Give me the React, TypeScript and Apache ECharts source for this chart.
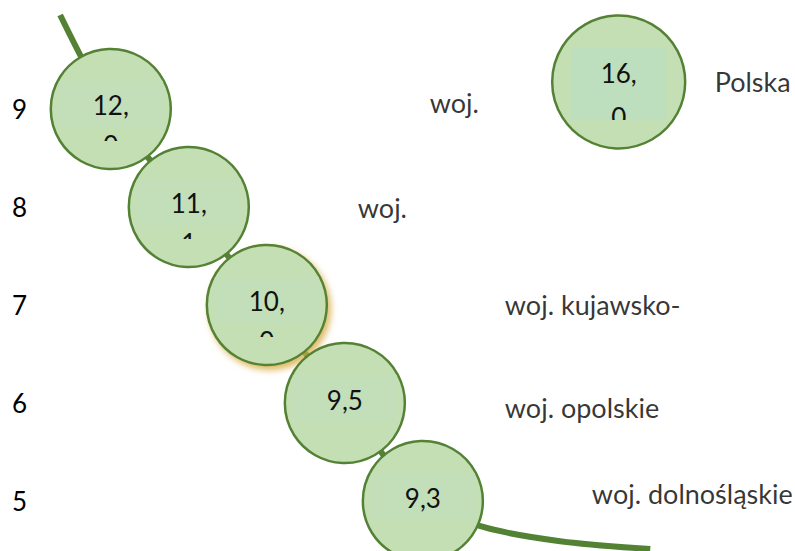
import React, { useEffect, useRef } from "react";
import * as echarts from "echarts";

// ---- data ----
const rankLabels = ["5", "6", "7", "8", "9"]; // y-axis categories, bottom to top
const regionNames = ["woj.", "woj.", "woj. kujawsko-", "woj. opolskie", "woj. dolnośląskie"];
const regionRanks = [9, 8, 7, 6, 5];
const regionValues = [12.0, 11.1, 10.0, 9.5, 9.3];
const nationalName = "Polska";
const nationalValue = 16.0;

// ---- layout (not data) ----
const NATIONAL_POS = [6.51, 9.276];
const LINE_LEAD = [[-0.649, 9.959]];
const LINE_TRAIL = [
  [4.774, 4.735],
  [5.76, 4.59],
  [6.915, 4.51],
];
const NAME_OFFSETS = [
  [319, -7],
  [169, 0],
  [238, -1],
  [160, 4],
  [169, -8],
];
const NATIONAL_NAME_OFFSET = [96, 0];

const FONT = "Lato";
const FILL = "#C5DFB4";
const BORDER = "#548235";
const INNER = "#C3DFBA";

const fmt = (v: number) => {
  const s = v.toFixed(1).replace(".", ",");
  return s.length > 3 ? s.replace(",", ",\n") : s;
};
const isTwoLine = (v: number) => fmt(v).indexOf("\n") >= 0;

export default function App() {
  const ref = useRef<HTMLDivElement>(null);
  useEffect(() => {
    if (!ref.current) return;
    const chart = echarts.init(ref.current, undefined, { renderer: "svg" });

    const circleData: any[] = regionValues.map((v, i) => ({
      value: [i, regionRanks[i], v],
      name: regionNames[i],
      itemStyle:
        i === 2
          ? {
              shadowColor: "rgba(214,170,60,0.8)",
              shadowBlur: 6,
              shadowOffsetX: 3,
              shadowOffsetY: 4,
            }
          : undefined,
    }));
    circleData.push({
      value: [NATIONAL_POS[0], NATIONAL_POS[1], nationalValue],
      name: nationalName,
      symbolSize: 133,
    });

    const textData: any[] = regionValues.map((v, i) => ({
      value: [i, regionRanks[i], v],
      symbolSize: [104, 46],
      symbolOffset: [0, -5],
      label: { offset: [0, isTwoLine(v) ? 21 : 2], lineHeight: 40 },
    }));
    textData.push({
      value: [NATIONAL_POS[0], NATIONAL_POS[1], nationalValue],
      symbolSize: [95, 73],
      symbolOffset: [0, 1.5],
      itemStyle: { color: "#BEDFBE" },
      label: { offset: [0, isTwoLine(nationalValue) ? 11.5 : 0], lineHeight: 44 },
    });

    const maskData: any[] = [];
    regionValues.forEach((v, i) => {
      if (isTwoLine(v))
        maskData.push({
          value: [i, regionRanks[i], v],
          symbolSize: [40, 20],
          symbolOffset: [0, 42],
        });
    });
    if (isTwoLine(nationalValue))
      maskData.push({
        value: [NATIONAL_POS[0], NATIONAL_POS[1], nationalValue],
        symbolSize: [44, 18],
        symbolOffset: [0, 47],
      });

    const nameData: any[] = regionValues.map((v, i) => ({
      value: [i, regionRanks[i], v],
      name: regionNames[i],
      label: { offset: NAME_OFFSETS[i] },
    }));
    nameData.push({
      value: [NATIONAL_POS[0], NATIONAL_POS[1], nationalValue],
      name: nationalName,
      label: { offset: NATIONAL_NAME_OFFSET },
    });

    const lineData = [
      ...LINE_LEAD,
      ...regionValues.map((_, i) => [i, regionRanks[i]]),
      ...LINE_TRAIL,
    ];

    chart.setOption({
      animation: false,
      backgroundColor: "#ffffff",
      grid: { left: 0, right: 0, top: 60, height: 490 },
      xAxis: { type: "value", min: -1.42, max: 8.77, show: false },
      yAxis: [
        {
          type: "category",
          data: rankLabels,
          axisLine: { show: false },
          axisTick: { show: false },
          splitLine: { show: false },
          axisLabel: {
            inside: true,
            margin: 12,
            fontSize: 26,
            fontFamily: FONT,
            color: "#000",
          },
        },
        { type: "value", min: 4.5, max: 9.5, show: false },
      ],
      series: [
        {
          type: "line",
          yAxisIndex: 1,
          data: lineData,
          smooth: 0.3,
          clip: false,
          symbol: "none",
          silent: true,
          z: 1,
          lineStyle: { color: BORDER, width: 6 },
        },
        {
          type: "scatter",
          yAxisIndex: 1,
          data: circleData,
          symbol: "circle",
          symbolSize: 120,
          silent: true,
          z: 2,
          itemStyle: { color: FILL, borderColor: BORDER, borderWidth: 2.5, opacity: 1 },
        },
        {
          type: "scatter",
          yAxisIndex: 1,
          data: textData,
          symbol: "rect",
          silent: true,
          z: 3,
          itemStyle: { color: INNER, opacity: 1 },
          label: {
            show: true,
            position: "inside",
            formatter: (p: any) => fmt(p.value[2]),
            fontSize: 26,
            fontFamily: FONT,
            color: "#111",
          },
        },
        {
          type: "scatter",
          yAxisIndex: 1,
          data: maskData,
          symbol: "rect",
          silent: true,
          z: 4,
          itemStyle: { color: FILL, opacity: 1 },
        },
        {
          type: "scatter",
          yAxisIndex: 1,
          data: nameData,
          symbolSize: 0,
          silent: true,
          z: 3,
          label: {
            show: true,
            position: "inside",
            align: "left",
            verticalAlign: "middle",
            formatter: (p: any) => p.name,
            fontSize: 27,
            fontFamily: FONT,
            color: "#000",
          },
        },
      ],
    });
    return () => chart.dispose();
  }, []);
  return <div ref={ref} style={{ width: 795, height: 551, position: "absolute", left: 0, top: 0 }} />;
}
